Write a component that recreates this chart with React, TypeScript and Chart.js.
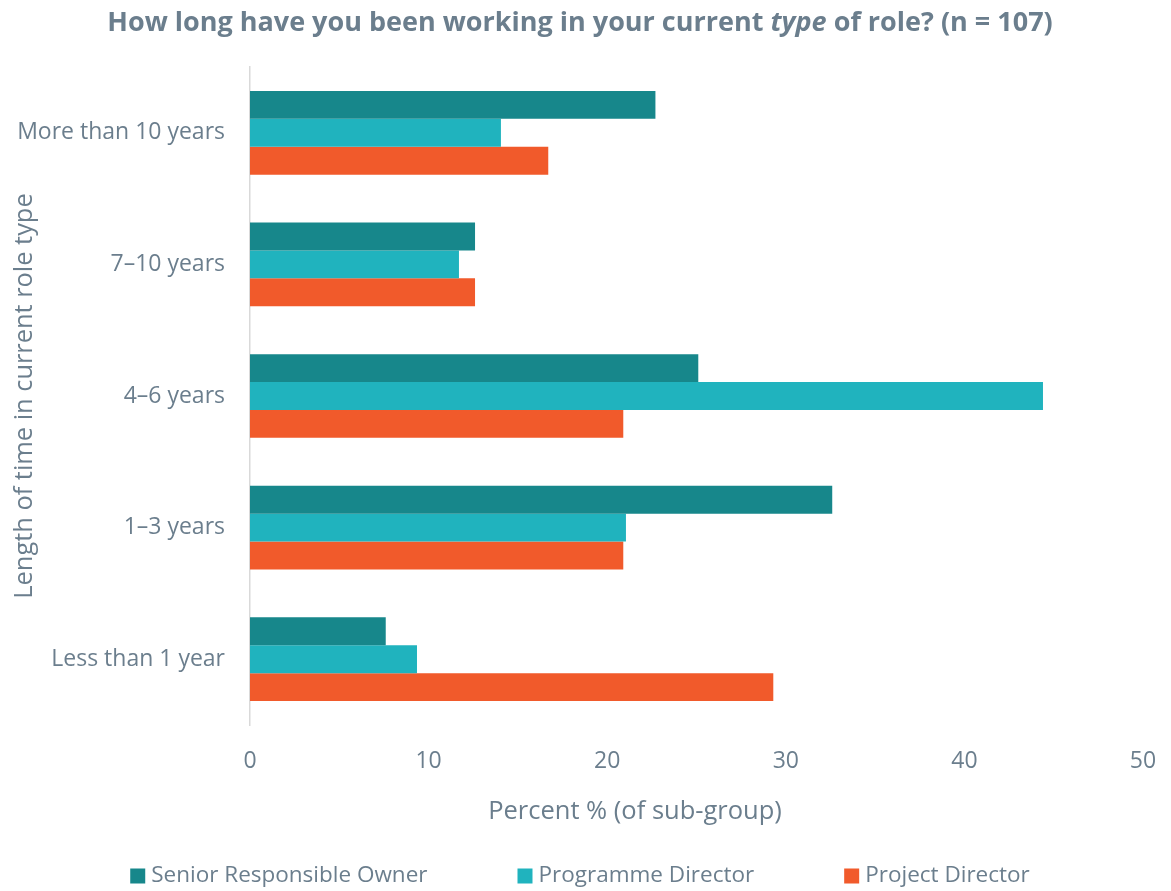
import React, { useEffect, useRef } from "react";
import { Chart, registerables } from "chart.js";

Chart.register(...registerables);

const categories = ["More than 10 years", "7–10 years", "4–6 years", "1–3 years", "Less than 1 year"];
const seniorResponsibleOwner = [22.7, 12.6, 25.1, 32.6, 7.6];
const programmeDirector = [14.05, 11.7, 44.4, 21.05, 9.35];
const projectDirector = [16.7, 12.6, 20.9, 20.9, 29.3];
const xTicks = [0, 10, 20, 30, 40, 50];
const xAxisTitle = "Percent % (of sub-group)";

const TEXT = "#6B7E8D";
const FONT = "'Open Sans', 'Noto Sans', sans-serif";

const titlePlugin = {
  id: "richTitle",
  afterDraw(chart: any) {
    const ctx = chart.ctx;
    const parts = [
      { t: "How long have you been working in your current ", s: "normal" },
      { t: "type", s: "italic" },
      { t: " of role? (n = 107)", s: "normal" },
    ];
    ctx.save();
    ctx.fillStyle = TEXT;
    ctx.textBaseline = "middle";
    let total = 0;
    for (const p of parts) {
      ctx.font = `${p.s} bold 27px ${FONT}`;
      total += ctx.measureText(p.t).width;
    }
    let x = 580 - total / 2;
    for (const p of parts) {
      ctx.font = `${p.s} bold 27px ${FONT}`;
      ctx.textAlign = "left";
      ctx.fillText(p.t, x, 23);
      x += ctx.measureText(p.t).width;
    }
    // x-axis title
    ctx.font = `25.5px ${FONT}`;
    ctx.textAlign = "center";
    ctx.fillText(xAxisTitle, 635, 812);
    ctx.restore();
  },
};

const legendPlugin = {
  id: "customLegend",
  afterDraw(chart: any) {
    const ctx = chart.ctx;
    const box = 15;
    const gapText = 6;
    const gap = 90;
    ctx.save();
    ctx.font = `22.5px ${FONT}`;
    ctx.textBaseline = "middle";
    ctx.textAlign = "left";
    const items = chart.data.datasets.map((d: any) => ({
      label: d.label,
      color: d.backgroundColor,
      w: box + gapText + ctx.measureText(d.label).width,
    }));
    const total = items.reduce((s: number, i: any) => s + i.w, 0) + gap * (items.length - 1);
    let x = 580 - total / 2;
    const y = 876;
    for (const it of items) {
      ctx.fillStyle = it.color;
      ctx.fillRect(x, y - box / 2, box, box);
      ctx.fillStyle = TEXT;
      ctx.fillText(it.label, x + box + gapText, y);
      x += it.w + gap;
    }
    ctx.restore();
  },
};

export default function App() {
  const ref = useRef<HTMLCanvasElement>(null);
  useEffect(() => {
    document.body.style.margin = "0";
    const chart = new Chart(ref.current!, {
      type: "bar",
      data: {
        labels: categories,
        datasets: [
          { label: "Senior Responsible Owner", data: seniorResponsibleOwner, backgroundColor: "#17878B" },
          { label: "Programme Director", data: programmeDirector, backgroundColor: "#20B3BE" },
          { label: "Project Director", data: projectDirector, backgroundColor: "#F15A2B" },
        ],
      },
      plugins: [titlePlugin, legendPlugin],
      options: {
        indexAxis: "y",
        animation: false,
        responsive: false,
        maintainAspectRatio: false,
        layout: { padding: { top: 67, right: 28, bottom: 46, left: 0 } },
        datasets: { bar: { barPercentage: 1, categoryPercentage: 0.636 } },
        scales: {
          x: {
            min: 0,
            max: 50,
            afterBuildTicks: (axis: any) => {
              axis.ticks = xTicks.map((v) => ({ value: v }));
            },
            afterFit: (scale: any) => {
              scale.height = 120;
              scale.paddingRight = 0;
              scale.paddingLeft = 0;
            },
            grid: { display: false, drawTicks: false },
            border: { display: false },
            ticks: { color: TEXT, font: { family: FONT, size: 23 }, padding: 23, maxRotation: 0 },
            title: { display: false },
          },
          y: {
            afterFit: (scale: any) => {
              scale.width = 250;
            },
            grid: { display: false, drawTicks: false },
            border: { display: true, color: "#D9D9D9", width: 1.5 },
            ticks: { color: TEXT, font: { family: FONT, size: 23 }, padding: 25 },
            title: {
              display: true,
              text: "Length of time in current role type",
              color: TEXT,
              font: { family: FONT, size: 25.4 },
              padding: { top: 10, bottom: 0 },
            },
          },
        },
        plugins: {
          title: { display: false },
          tooltip: { enabled: false },
          legend: { display: false },
        },
      },
    } as any);
    return () => chart.destroy();
  }, []);
  return (
    <div style={{ width: 1171, height: 891 }}>
      <canvas ref={ref} width={1171} height={891} style={{ display: "block" }} />
    </div>
  );
}
